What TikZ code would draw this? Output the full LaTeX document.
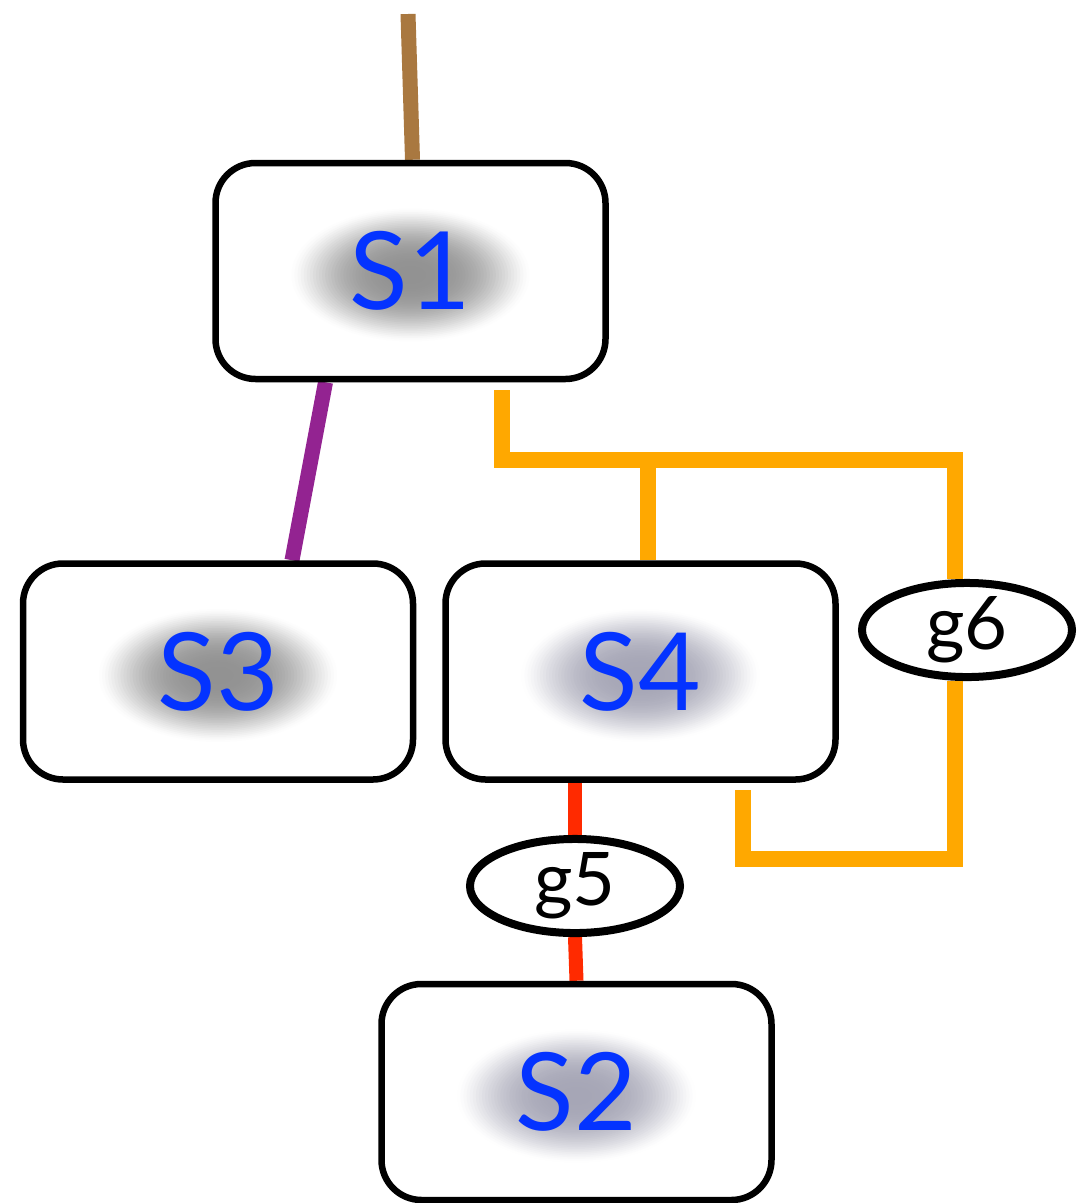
\documentclass[tikz,border=0pt]{standalone}
\usepackage{fontspec}
\setmainfont{Lato}
\usetikzlibrary{shapes.geometric}
\definecolor{sblue}{HTML}{0433FF}
\definecolor{brownc}{HTML}{A97840}
\definecolor{purplec}{HTML}{932391}
\definecolor{orangec}{HTML}{FFA800}
\definecolor{redc}{HTML}{FF2A00}
\definecolor{glowg}{HTML}{929292}
\definecolor{glowb}{HTML}{A6A6B6}
\pgfdeclarelayer{bg}
\pgfsetlayers{bg,main}
\newcommand{\glowfill}[1]{%
  \foreach \i in {40,39,...,1}{%
    \pgfmathsetmacro{\rr}{\i/40}%
    \pgfmathsetmacro{\pp}{100*(1-\rr*\rr*\rr)^1.6}%
    \fill[#1!\pp!white] ([yshift=-4pt]path picture bounding box.center) ellipse ({122*\rr} and {68*\rr});
  }}
\tikzset{
  sbox/.style={draw=black, line width=6.5pt, fill=white, rounded corners=40pt,
    minimum width=390pt, minimum height=216pt, inner sep=0pt,
    text=sblue, font=\fontsize{108}{108}\selectfont},
  glowgraybox/.style={sbox, path picture={\glowfill{glowg}}},
  glowbluebox/.style={sbox, path picture={\glowfill{glowb}}},
  gate/.style={ellipse, draw=black, line width=8pt, fill=white, inner sep=0pt,
    minimum width=210pt, minimum height=92pt, font=\fontsize{74}{74}\selectfont},
  brownline/.style={draw=brownc, line width=15pt},
  purpleline/.style={draw=purplec, line width=15pt},
  orangeline/.style={draw=orangec, line width=16pt, line join=miter},
  redline/.style={draw=redc, line width=14pt}
}
\begin{document}
\begin{tikzpicture}[x=1pt,y=-1pt]
\useasboundingbox (0,0) rectangle (1078,1203);
\node[glowgraybox] (S1) at (410.5,271) {S1};
\node[glowgraybox] (S3) at (218,671.5) {S3};
\node[glowbluebox] (S4) at (640.5,671.5) {S4};
\node[glowbluebox] (S2) at (576.5,1092) {S2};
\node[gate] (g6) at (967,630) {g6};
\node[gate] (g5) at (575,886) {g5};
\coordinate (top) at (408,14);
\coordinate (o1) at (502,390);
\coordinate (j) at (648,460);
\coordinate (s4r) at (743,790);
\begin{pgfonlayer}{bg}
\draw[brownline] (top) -- ([xshift=2pt]S1.north);
\draw[purpleline] ([xshift=-85pt]S1.south) -- ([xshift=74pt]S3.north);
\draw[orangeline] (o1) -- (o1 |- j) -| ([xshift=-12pt]g6.north);
\draw[orangeline] (j) -- (j |- S4.north);
\draw[orangeline] ([xshift=-12pt]g6.south) -- ++(0,178) -| (s4r);
\draw[redline] (g5.north |- S4.south) -- (g5.north);
\draw[redline] (g5.south) -- (S2.north);
\end{pgfonlayer}
\end{tikzpicture}
\end{document}
